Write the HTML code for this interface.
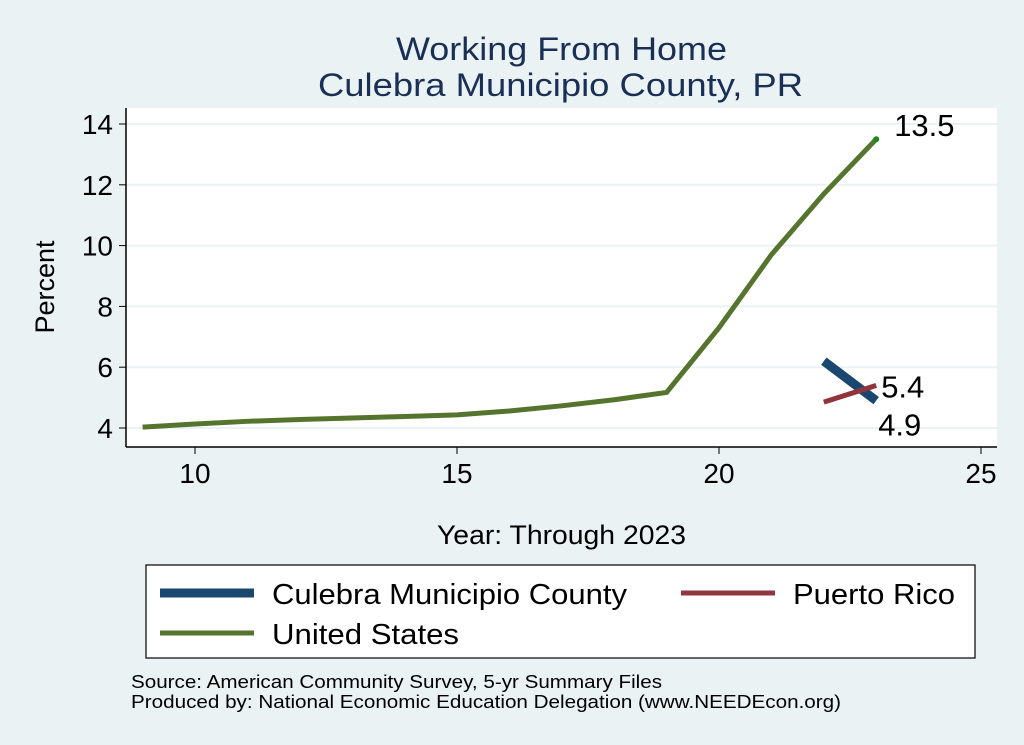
<!DOCTYPE html>
<html><head><meta charset="utf-8"><style>
body{margin:0;width:1024px;height:745px;background:#eaf2f3;font-family:"Liberation Sans",Arial,sans-serif;overflow:hidden}
svg{position:absolute;left:0;top:0}
</style></head><body>
<svg id="c" width="1024" height="745"></svg>
<script>
const years=[9,10,11,12,13,14,15,16,17,18,19,20,21,22,23];
const usVals=[4.03,4.13,4.22,4.28,4.33,4.38,4.43,4.56,4.73,4.93,5.17,7.3,9.7,11.7,13.5];
const culYears=[22,23];
const culVals=[6.2,4.9];
const prYears=[22,23];
const prVals=[4.85,5.4];
const xTicks=[10,15,20,25];
const yTicks=[4,6,8,10,12,14];
const X=v=>195+(v-10)*52.4;
const Y=v=>428-(v-4)*30.4;
const NS="http://www.w3.org/2000/svg";
const svg=document.getElementById('c');
function mk(tag,attrs,txt){const e=document.createElementNS(NS,tag);for(const k in attrs)e.setAttribute(k,attrs[k]);if(txt!==undefined)e.textContent=txt;svg.appendChild(e);return e;}
let e;
e=mk('rect',{x:126,y:108,width:871,height:339,fill:'#fff'});


yTicks.forEach(t=>{
 e=mk('line',{x1:126,x2:997,y1:Y(t),y2:Y(t),stroke:'#eaf2f3','stroke-width':2});
 
 
 mk('line',{x1:119,x2:126,y1:Y(t),y2:Y(t),stroke:'#000','stroke-width':1});
 e=mk('text',{x:113,y:Y(t)+10,'text-anchor':'end','font-size':28,fill:'#000'},t);
 
 
});
xTicks.forEach(t=>{
 mk('line',{x1:X(t),x2:X(t),y1:447,y2:454,stroke:'#000','stroke-width':1});
 e=mk('text',{x:X(t),y:483,'text-anchor':'middle','font-size':28,fill:'#000'},t);
 
 
});
mk('line',{x1:126,x2:126,y1:108,y2:447,stroke:'#000','stroke-width':1.5});
mk('line',{x1:126,x2:997,y1:447,y2:447,stroke:'#000','stroke-width':1.5});
function line(xs,ys,col,w,name){
 const p=mk('polyline',{points:xs.map((x,i)=>X(x)+','+Y(ys[i])).join(' '),fill:'none',stroke:col,'stroke-width':w});
 
 
}
line(culYears,culVals,'#1a476f',9,'culebra-line');
line(prYears,prVals,'#90353b',5,'puerto-rico-line');
line(years,usVals,'#55752f',5,'us-line');
e=mk('circle',{cx:X(23),cy:Y(usVals[usVals.length-1]),r:3,fill:'#1a8a1a'});


function lab(x,y,t,name){e=mk('text',{x:x,y:y,'font-size':31,fill:'#000'},t);}
lab(X(23)+18,Y(13.5)-3,'13.5','us-value-label');
lab(X(23)+5,Y(prVals[1])+12,'5.4','pr-value-label');
lab(X(23)+2,Y(culVals[1])+35,'4.9','culebra-value-label');
function txt(x,y,size,t,len,name,extra){
 const a={x:x,y:y,'font-size':size,fill:'#000',textLength:len,lengthAdjust:'spacingAndGlyphs'};
 Object.assign(a,extra||{});
 e=mk('text',a,t);
 
 
}
txt(396,60,32,'Working From Home',331,'chart-title',{fill:'#1a2f55'});
txt(318,96,32,'Culebra Municipio County, PR',485,'chart-subtitle',{fill:'#1a2f55'});
e=mk('text',{x:54,y:287,'text-anchor':'middle','font-size':27,fill:'#000',transform:'rotate(-90 54 287)'},'Percent');


txt(437,544,27,'Year: Through 2023',249,'x-axis-title');
e=mk('rect',{x:146,y:565,width:829,height:93,fill:'#fff',stroke:'#000','stroke-width':1.2});


function leg(x,y,col,t,len,name){
 e=mk('line',{x1:x,x2:x+94,y1:y,y2:y,stroke:col,'stroke-width':col=='#1a476f'?9:5});
 
 
 txt(x+112,y+11,29,t,len,name+'-label');
}
leg(160,593,'#1a476f','Culebra Municipio County',355,'legend-culebra');
leg(681,593,'#90353b','Puerto Rico',162,'legend-puerto-rico');
leg(160,633,'#55752f','United States',187,'legend-us');
txt(131,688,18,'Source: American Community Survey, 5-yr Summary Files',531,'source-note');
txt(131,708,18,'Produced by: National Economic Education Delegation (www.NEEDEcon.org)',710,'producer-note');
</script>
</body></html>
